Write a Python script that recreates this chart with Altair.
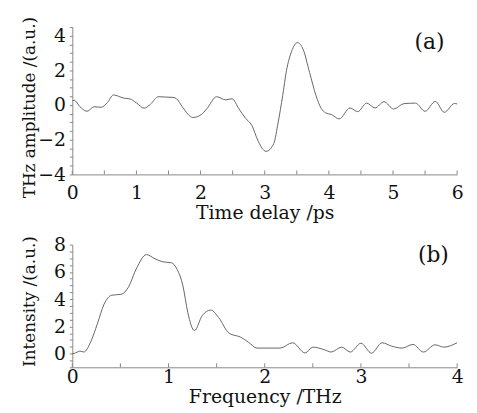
import altair as alt
import pandas as pd

# ---- data: (a) time-domain THz waveform ----
time_ps = [0, 0.03, 0.12, 0.23, 0.34, 0.45, 0.55, 0.64, 0.80, 0.90, 1.00, 1.12, 1.22,
           1.34, 1.45, 1.57, 1.62, 1.72, 1.88, 2.00, 2.10, 2.25, 2.39, 2.49, 2.60, 2.70,
           2.80, 2.90, 3.02, 3.14, 3.21, 3.28, 3.34, 3.42, 3.51, 3.60, 3.70, 3.80, 3.88,
           3.95, 4.04, 4.16, 4.33, 4.45, 4.59, 4.72, 4.86, 5.01, 5.17, 5.35, 5.50, 5.66,
           5.80, 5.96, 6.00]
amplitude = [0.25, 0.27, -0.10, -0.36, -0.10, -0.13, 0.15, 0.58, 0.40, 0.35, 0.12, -0.18, 0.05,
             0.48, 0.46, 0.44, 0.38, -0.13, -0.72, -0.58, -0.20, 0.48, 0.30, 0.36, -0.23, -0.76,
             -1.18, -2.10, -2.67, -2.23, -0.99, 0.54, 2.00, 3.10, 3.60, 3.20, 1.87, 0.54, -0.19,
             -0.45, -0.55, -0.80, -0.17, -0.38, 0.11, -0.17, 0.19, -0.23, 0.08, 0.11, -0.36, 0.21,
             -0.42, 0.09, 0.06]

# ---- data: (b) spectrum ----
freq_thz = [0, 0.02, 0.08, 0.12, 0.19, 0.26, 0.33, 0.41, 0.51, 0.58, 0.67, 0.77, 0.86, 0.94,
            1.03, 1.09, 1.15, 1.20, 1.27, 1.35, 1.44, 1.52, 1.63, 1.75, 1.83, 1.92, 2.16,
            2.29, 2.42, 2.50, 2.62, 2.69, 2.80, 2.89, 3.00, 3.11, 3.22, 3.32, 3.43, 3.54,
            3.65, 3.77, 3.86, 4.00]
intensity = [0.00, 0.02, 0.19, 0.12, 0.85, 2.18, 3.63, 4.29, 4.36, 4.84, 6.30, 7.27, 6.96, 6.74,
             6.67, 6.18, 4.97, 3.03, 1.69, 2.79, 3.20, 2.66, 1.50, 1.21, 0.85, 0.41, 0.41,
             0.80, 0.05, 0.48, 0.29, 0.12, 0.48, 0.12, 0.77, 0.04, 0.80, 0.55, 0.41, 0.68,
             0.12, 0.65, 0.48, 0.80]

# ---- tick positions ----
top_x_labels = [0, 1, 2, 3, 4, 5, 6]
top_x_ticks = [i * 0.5 for i in range(13)]
top_y_ticks = [-4 + i * 0.5 for i in range(18)]
bot_x_labels = [0, 1, 2, 3, 4]
bot_x_ticks = [i * 0.5 for i in range(9)]
bot_y_ticks = [-1 + i * 0.5 for i in range(19)]

FONT = "DejaVu Serif"
W = 389
H1 = 149
H2 = 124
AXC = "#888888"
LINEC = "#666666"
TXT = "#111111"
LBL = "datum.value % 2 == 0 ? format(datum.value, 'd') : ''"

common = dict(labelFont=FONT, titleFont=FONT, labelFontSize=19,
              labelColor=TXT, titleColor=TXT, titleFontWeight="normal",
              domainColor=AXC, tickColor=AXC, grid=False,
              labelFlush=False, labelOverlap=False)
XT = 19   # x-axis title size
YT = 17   # y-axis title size

top_df = pd.DataFrame({"t": time_ps, "v": amplitude})
top_ticks_df = pd.DataFrame({"t": top_x_ticks})
bot_df = pd.DataFrame({"f": freq_thz, "v": intensity})
bot_ticks_df = pd.DataFrame({"f": bot_x_ticks})

xa = alt.X("t:Q", scale=alt.Scale(domain=[0, 6], nice=False, zero=False),
           axis=alt.Axis(values=top_x_labels, format="d", ticks=False, tickSize=0,
                         labelBaseline="alphabetic", labelPadding=24,
                         title="Time delay /ps", titleBaseline="alphabetic", titleY=45,
                         titleFontSize=XT, **common))
ya = alt.Y("v:Q", scale=alt.Scale(domain=[-4, 4.5], nice=False, zero=False),
           axis=alt.Axis(values=top_y_ticks, labelExpr=LBL, tickSize=3, labelPadding=4,
                         title="THz amplitude /(a.u.)", titleX=-34, titleY=81,
                         titleFontSize=YT, **common))

top_line = alt.Chart(top_df).mark_line(color=LINEC, strokeWidth=1, interpolate="monotone").encode(
    x=xa, y=ya)
top_tk = alt.Chart(top_ticks_df).mark_rule(color=AXC, strokeWidth=1).encode(
    x=alt.X("t:Q", scale=alt.Scale(domain=[0, 6], nice=False, zero=False)),
    y=alt.value(H1), y2=alt.value(H1 - 4))
top_lab = alt.Chart(pd.DataFrame({"s": ["(a)"]})).mark_text(
    font=FONT, fontSize=22, color=TXT, align="center", baseline="middle").encode(
    text="s:N", x=alt.value(361), y=alt.value(15))
top = alt.layer(top_line, top_tk, top_lab).properties(width=W, height=H1)

xb = alt.X("f:Q", scale=alt.Scale(domain=[0, 4], nice=False, zero=False),
           axis=alt.Axis(values=bot_x_labels, format="d", ticks=False, tickSize=0,
                         labelBaseline="alphabetic", labelPadding=15,
                         title="Frequency /THz", titleBaseline="alphabetic", titleY=36,
                         titleFontSize=XT, **common))
yb = alt.Y("v:Q", scale=alt.Scale(domain=[-1, 8], nice=False, zero=False),
           axis=alt.Axis(values=bot_y_ticks, labelExpr=LBL, tickSize=3, labelPadding=4,
                         title="Intensity /(a.u.)", titleX=-34, titleY=57,
                         titleFontSize=YT, **common))

bot_line = alt.Chart(bot_df).mark_line(color=LINEC, strokeWidth=1, interpolate="monotone").encode(
    x=xb, y=yb)
bot_tk = alt.Chart(bot_ticks_df).mark_rule(color=AXC, strokeWidth=1).encode(
    x=alt.X("f:Q", scale=alt.Scale(domain=[0, 4], nice=False, zero=False)),
    y=alt.value(H2), y2=alt.value(H2 - 4))
bot_lab = alt.Chart(pd.DataFrame({"s": ["(b)"]})).mark_text(
    font=FONT, fontSize=22, color=TXT, align="center", baseline="middle").encode(
    text="s:N", x=alt.value(365), y=alt.value(11))
bot = alt.layer(bot_line, bot_tk, bot_lab).properties(width=W, height=H2)

chart = alt.vconcat(top, bot, spacing=12).properties(
    padding={"left": 12, "top": 6, "right": 5, "bottom": 5}
).configure_view(stroke=None)

chart.save("out.html", embed_options={"renderer": "svg", "actions": False})
